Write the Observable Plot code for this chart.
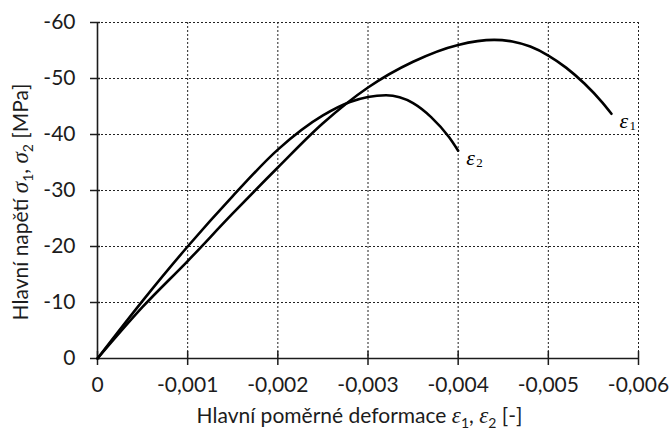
<!DOCTYPE html>
<html>
<head>
<meta charset="utf-8">
<script src="https://cdn.jsdelivr.net/npm/d3@7"></script>
<script src="https://cdn.jsdelivr.net/npm/@observablehq/plot@0.6"></script>
<style>
  html, body { margin: 0; padding: 0; background: #fff; }
  #chart svg { display: block; }
</style>
</head>
<body>
<div id="chart"></div>
<script>
// Tick values of both axes
const strainTicks = [0, -0.001, -0.002, -0.003, -0.004, -0.005, -0.006];
const stressTicks = [0, -10, -20, -30, -40, -50, -60];

// Principal strain ε1 and the matching principal stress σ1 [MPa]
const eps1Strain = [0, -0.0005, -0.001, -0.0015, -0.002, -0.0025, -0.003, -0.0035, -0.004, -0.0044, -0.0046, -0.0048, -0.005, -0.0052, -0.0054, -0.0056, -0.0057];
const eps1Stress = [0, -9.2, -17.4, -25.9, -34.1, -42.0, -48.4, -53.0, -56.0, -56.9, -56.6, -55.7, -54.1, -51.9, -49.1, -45.7, -43.7];

// Principal strain ε2 and the matching principal stress σ2 [MPa]
const eps2Strain = [0, -0.0005, -0.001, -0.0015, -0.002, -0.0025, -0.0028, -0.003, -0.0032, -0.0035, -0.0037, -0.0039, -0.004];
const eps2Stress = [0, -10.3, -20.0, -29.0, -37.3, -43.4, -45.8, -46.7, -47.0, -45.6, -43.1, -39.5, -37.1];

// Curve labels: symbol and subscript
const curveSymbols = ["ε", "ε"];
const curveSubscripts = ["1", "2"];

const rows = [
  ...eps1Strain.map((s, i) => ({series: "ε1", strain: s, stress: eps1Stress[i]})),
  ...eps2Strain.map((s, i) => ({series: "ε2", strain: s, stress: eps2Stress[i]}))
];
const curveEnds = [
  {strain: eps1Strain.at(-1), stress: eps1Stress.at(-1), sym: curveSymbols[0], sub: curveSubscripts[0]},
  {strain: eps2Strain.at(-1), stress: eps2Stress.at(-1), sym: curveSymbols[1], sub: curveSubscripts[1]}
];

const fmtStrain = d => d === 0 ? "0" : String(d).replace(".", ",");
const fmtStress = d => String(d);

const ink = "#1c1c1c";
const W = 672, H = 432;

const chart = Plot.plot({
  width: W,
  height: H,
  marginLeft: 97,
  marginRight: 34,
  marginTop: 22,
  marginBottom: 74,
  style: {fontFamily: "Lato, sans-serif", fontSize: "21px", color: ink, background: "#fff"},
  x: {domain: [0, -0.006]},
  y: {domain: [0, -60]},
  marks: [
    Plot.gridX({ticks: strainTicks.filter(d => d !== 0), stroke: "#222", strokeOpacity: 1, strokeWidth: 1, strokeDasharray: "2,2"}),
    Plot.gridY({ticks: stressTicks.filter(d => d !== 0), stroke: "#222", strokeOpacity: 1, strokeWidth: 1, strokeDasharray: "2,2"}),
    Plot.ruleX([0], {stroke: ink, strokeWidth: 1.6}),
    Plot.ruleY([0], {stroke: ink, strokeWidth: 1.6}),
    // crossing tick marks
    Plot.axisX({ticks: strainTicks, tickSize: 14, dy: -7, tickFormat: () => "", label: null, stroke: ink, strokeWidth: 1.5}),
    Plot.axisY({ticks: stressTicks, tickSize: 10, dx: 3, tickFormat: () => "", label: null, stroke: ink, strokeWidth: 1.5}),
    // tick labels
    Plot.axisX({ticks: strainTicks, tickSize: 0, tickPadding: 19, tickFormat: fmtStrain, label: null, fill: ink}),
    Plot.axisY({ticks: stressTicks, tickSize: 0, tickPadding: 22, tickFormat: fmtStress, label: null, fill: ink}),
    Plot.line(rows, {x: "strain", y: "stress", z: "series", stroke: "#000", strokeWidth: 2.6, curve: "monotone-x"}),
    Plot.text(curveEnds, {x: "strain", y: "stress", text: "sym", dx: 8, dy: 7, textAnchor: "start",
      fontFamily: "Liberation Serif, serif", fontStyle: "italic", fontSize: 22, fill: "#000"}),
    Plot.text(curveEnds, {x: "strain", y: "stress", text: "sub", dx: 18, dy: 12, textAnchor: "start",
      fontFamily: "Liberation Serif, serif", fontSize: 13, fill: "#000"})
  ]
});

document.getElementById("chart").append(chart);

// Axis titles with italic Greek symbols and subscripts
const svg = d3.select(chart);
const xr = chart.scale("x").range;
const yr = chart.scale("y").range;

function addTitle(g, parts) {
  for (const p of parts) {
    const t = g.append("tspan").text(p.text);
    if (p.greek) t.attr("font-family", "Liberation Serif, serif").attr("font-style", "italic").attr("font-size", 23);
    if (p.sub) t.attr("font-size", 14).attr("dy", 5);
    if (p.after) t.attr("dy", -5);
  }
}

const xTitle = svg.append("text")
  .attr("x", (xr[0] + xr[1]) / 2 - 8)
  .attr("y", H - 9)
  .attr("text-anchor", "middle")
  .attr("fill", ink)
  .attr("font-family", "Lato, sans-serif")
  .attr("font-size", 21);
addTitle(xTitle, [
  {text: "Hlavní poměrné deformace "},
  {text: "ε", greek: true},
  {text: "1", sub: true},
  {text: ", ", after: true},
  {text: "ε", greek: true},
  {text: "2", sub: true},
  {text: " [-]", after: true}
]);

const yTitle = svg.append("text")
  .attr("transform", `translate(28,${(yr[0] + yr[1]) / 2 + 12}) rotate(-90)`)
  .attr("text-anchor", "middle")
  .attr("fill", ink)
  .attr("font-family", "Lato, sans-serif")
  .attr("font-size", 21);
addTitle(yTitle, [
  {text: "Hlavní napětí "},
  {text: "σ", greek: true},
  {text: "1", sub: true},
  {text: ", ", after: true},
  {text: "σ", greek: true},
  {text: "2", sub: true},
  {text: " [MPa]", after: true}
]);
</script>
</body>
</html>
